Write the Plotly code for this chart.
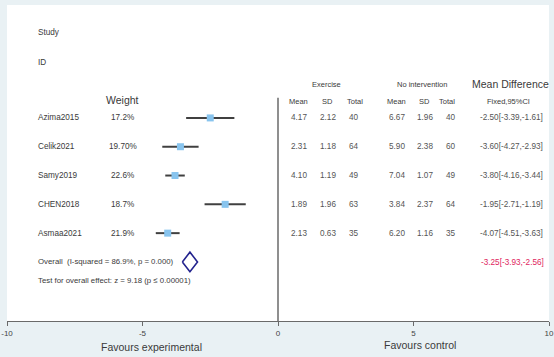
import plotly.graph_objects as go

# ---- data ----
studies = ["Azima2015", "Celik2021", "Samy2019", "CHEN2018", "Asmaa2021"]
weights = ["17.2%", "19.70%", "22.6%", "18.7%", "21.9%"]
ex_mean = ["4.17", "2.31", "4.10", "1.89", "2.13"]
ex_sd = ["2.12", "1.18", "1.19", "1.96", "0.63"]
ex_total = ["40", "64", "49", "63", "35"]
ni_mean = ["6.67", "5.90", "7.04", "3.84", "6.20"]
ni_sd = ["1.96", "2.38", "1.07", "2.37", "1.16"]
ni_total = ["40", "60", "49", "64", "35"]
md = [-2.50, -3.60, -3.80, -1.95, -4.07]
ci_low = [-3.39, -4.27, -4.16, -2.71, -4.51]
ci_high = [-1.61, -2.93, -3.44, -1.19, -3.63]
overall_md = -3.25
overall_low = -3.93
overall_high = -2.56
overall_text = "Overall  (I-squared = 86.9%, p = 0.000)"
test_text = "Test for overall effect: z = 9.18 (p ≤ 0.00001)"
tick_vals = [-10, -5, 0, 5, 10]
tick_text = ["-10", "-5", "0", "5", "10"]

# ---- style ----
FONT = "Liberation Sans, Arial, sans-serif"
TXT = "#3a3a3a"
VAL = "#555555"
BG = "#e9f1f4"

rows = list(range(len(studies)))
overall_row = len(studies)

fig = go.Figure()

# CI lines + square markers
fig.add_trace(go.Scatter(
    x=md, y=rows, mode="markers",
    marker=dict(symbol="square", size=7, color="#88c4ee", line=dict(width=0)),
    error_x=dict(type="data", symmetric=False,
                 array=[h - m for h, m in zip(ci_high, md)],
                 arrayminus=[m - l for m, l in zip(md, ci_low)],
                 color="#404040", thickness=2, width=0),
    showlegend=False, hoverinfo="skip"))

# overall diamond (centred on pooled estimate)
dw = 0.28
dh = 0.34
fig.add_trace(go.Scatter(
    x=[overall_md - dw, overall_md, overall_md + dw, overall_md, overall_md - dw],
    y=[overall_row, overall_row - dh, overall_row, overall_row + dh, overall_row],
    mode="lines", line=dict(color="#23238e", width=1.6),
    showlegend=False, hoverinfo="skip"))

# vertical null line
fig.add_shape(type="line", x0=0, x1=0, xref="x", yref="y", y0=-0.7, y1=7.05,
              line=dict(color="#6a6a6a", width=1.5))

ann = []
def t(x, y, s, size=8.2, color=TXT, xanchor="center", yref="y"):
    ann.append(dict(x=x, y=y, xref="x", yref=yref, text=s, showarrow=False,
                    font=dict(family=FONT, size=size, color=color),
                    xanchor=xanchor, yanchor="middle"))

t(-8.92, -2.95, "Study", xanchor="left")
t(-8.92, -1.94, "ID", xanchor="left")
t(-5.74, -0.62, "Weight", size=10.5)
t(1.78, -1.15, "Exercise", size=7.5)
t(5.32, -1.15, "No intervention", size=7.5)
t(8.57, -1.18, "Mean Difference", size=10.5)
for xx, s in [(0.75, "Mean"), (1.82, "SD"), (2.85, "Total"),
              (4.36, "Mean"), (5.39, "SD"), (6.22, "Total")]:
    t(xx, -0.56, s, size=7.5)
t(8.5, -0.56, "Fixed,95%CI", size=7.5)

for i in rows:
    t(-8.92, i, studies[i], xanchor="left")
    t(-5.72, i, weights[i])
    t(0.77, i, ex_mean[i], color=VAL)
    t(1.83, i, ex_sd[i], color=VAL)
    t(2.8, i, ex_total[i], color=VAL)
    t(4.38, i, ni_mean[i], color=VAL)
    t(5.43, i, ni_sd[i], color=VAL)
    t(6.37, i, ni_total[i], color=VAL)
    t(8.62, i, f"{md[i]:.2f}[{ci_low[i]:.2f},{ci_high[i]:.2f}]", color=VAL)

t(-8.92, overall_row, overall_text, size=7.8, xanchor="left")
t(-8.92, overall_row + 0.63, test_text, size=7.8, xanchor="left")
t(8.65, overall_row + 0.03, f"{overall_md:.2f}[{overall_low:.2f},{overall_high:.2f}]",
  color="#e0245e")

t(-4.68, -0.082, "Favours experimental", size=10.5, yref="paper")
t(5.25, -0.076, "Favours control", size=10.5, yref="paper")

fig.update_layout(
    width=554, height=357,
    margin=dict(l=7, r=5, t=5, b=36),
    paper_bgcolor=BG, plot_bgcolor="white",
    annotations=ann,
    xaxis=dict(range=[-10, 10], tickvals=tick_vals, ticktext=tick_text,
               automargin=False,
               showgrid=False, zeroline=False, showline=True,
               linecolor="#6a6a6a", linewidth=1,
               ticks="outside", ticklen=4, tickcolor="#6a6a6a", tickwidth=1,
               tickfont=dict(family=FONT, size=8, color="#444444")),
    yaxis=dict(range=[7.05, -3.92], visible=False, showgrid=False,
               zeroline=False, automargin=False),
)

fig.write_html(
    "out.html",
    config={"displayModeBar": False},
    post_script="document.body.style.margin='0px';"
                "document.body.style.background='" + BG + "';",
)
